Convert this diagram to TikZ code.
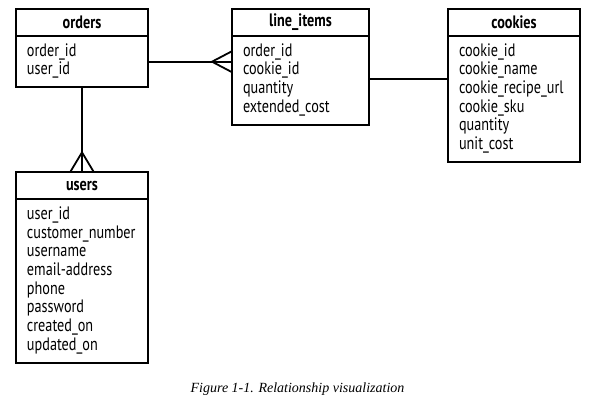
\documentclass[tikz,border=0pt]{standalone}
\usepackage{fontspec}
\usepackage{tikz}
\usetikzlibrary{positioning}

\newfontfamily\erfont{PT Sans}[FakeStretch=0.79]
\newfontfamily\capfont{Liberation Serif}
\newcommand{\fieldlist}[1]{\begin{tabular}{@{}l@{}}#1\end{tabular}}

\begin{document}
\begin{tikzpicture}[x=1pt, y=1pt,
        tblhead/.style={draw, line width=1.8pt, minimum width=#1, minimum height=27pt,
            inner sep=0pt, outer sep=0pt, font=\erfont\bfseries\fontsize{18}{18.7}\selectfont},
        tblhead/.default=132pt,
        tblbody/.style={draw, line width=1.8pt, text width=#1, inner xsep=11pt, inner ysep=7pt,
            outer sep=0pt, align=left, font=\erfont\fontsize{18}{18.7}\selectfont},
        tblbody/.default=110pt,
        rel/.style={line width=1.8pt}
        ]
    \useasboundingbox (0,0) rectangle (595,-403);

    % Tabellen
    \node[tblhead, anchor=north west] (orders) at (16,-9) {orders};
    \node[tblbody, below=0pt of orders] (orders-body) {\fieldlist{order\_id\\ user\_id}};

    \node[tblhead=137pt, right=84pt of orders] (items) {line\_items};
    \node[tblbody=115pt, below=0pt of items] (items-body)
        {\fieldlist{order\_id\\ cookie\_id\\ quantity\\ extended\_cost}};

    \node[tblhead, right=79pt of items] (cookies) {cookies};
    \node[tblbody, below=0pt of cookies] (cookies-body)
        {\fieldlist{cookie\_id\\ cookie\_name\\ cookie\_recipe\_url\\ cookie\_sku\\ quantity\\ unit\_cost}};

    \node[tblhead, below=85pt of orders-body] (users) {users};
    \node[tblbody, below=0pt of users] (users-body)
        {\fieldlist{user\_id\\ customer\_number\\ username\\ email-address\\ phone\\ password\\ created\_on\\ updated\_on}};

    % Beziehungen
    \coordinate (oi) at (orders-body.east -| items-body.west);
    \draw[rel] (orders-body.east) -- (oi);
    \draw[rel] ([yshift=10.5pt]oi) -- ([xshift=-20pt]oi) -- ([yshift=-10.5pt]oi);

    \coordinate (ic) at ([yshift=1.5pt]items-body.east);
    \draw[rel] (ic) -- (ic -| cookies-body.west);

    \draw[rel] (orders-body.south) -- (users.north);
    \draw[rel] ([xshift=-12pt]users.north) -- ([yshift=20pt]users.north) -- ([xshift=12pt]users.north);

    % Bildunterschrift
    \node[font=\capfont\itshape\fontsize{14}{16}\selectfont] (caption) at (297.5,-389)
        {Figure 1-1. Relationship visualization};
\end{tikzpicture}
\end{document}
